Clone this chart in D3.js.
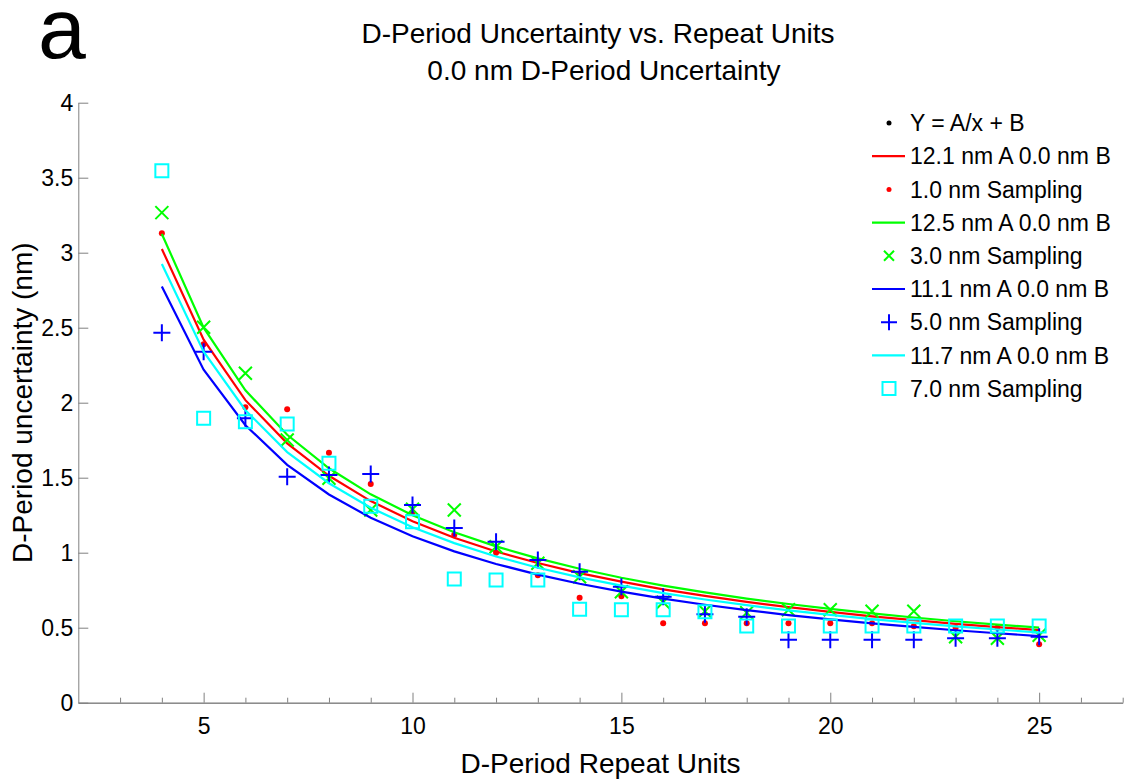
<!DOCTYPE html>
<html>
<head>
<meta charset="utf-8">
<title>D-Period Uncertainty vs. Repeat Units</title>
<script src="https://cdn.jsdelivr.net/npm/d3@7"></script>
<style>
  body { margin: 0; background: #fff; }
  svg { font-family: "Liberation Sans", Arial, Helvetica, sans-serif; }
  .axis path, .axis line { stroke: #808080; stroke-width: 1; }
  .axis text { fill: #000; font-size: 23px; }
</style>
</head>
<body>
<div id="chart"></div>
<script>
// repeat units on the x axis
const repeatUnits = [4, 5, 6, 7, 8, 9, 10, 11, 12, 13, 14, 15, 16, 17, 18, 19, 20, 21, 22, 23, 24, 25];

// fitted curves Y = A/x + B
const fit1nm = [3.025, 2.42, 2.017, 1.729, 1.513, 1.344, 1.21, 1.1, 1.008, 0.931, 0.864, 0.807, 0.756, 0.712, 0.672, 0.637, 0.605, 0.576, 0.55, 0.526, 0.504, 0.484];
const fit3nm = [3.125, 2.5, 2.083, 1.786, 1.563, 1.389, 1.25, 1.136, 1.042, 0.962, 0.893, 0.833, 0.781, 0.735, 0.694, 0.658, 0.625, 0.595, 0.568, 0.543, 0.521, 0.5];
const fit5nm = [2.775, 2.22, 1.85, 1.586, 1.388, 1.233, 1.11, 1.009, 0.925, 0.854, 0.793, 0.74, 0.694, 0.653, 0.617, 0.584, 0.555, 0.529, 0.505, 0.483, 0.463, 0.444];
const fit7nm = [2.925, 2.34, 1.95, 1.671, 1.463, 1.3, 1.17, 1.064, 0.975, 0.9, 0.836, 0.78, 0.731, 0.688, 0.65, 0.616, 0.585, 0.557, 0.532, 0.509, 0.488, 0.468];

// sampled uncertainties
const sample1nm = [3.13, 2.39, 1.97, 1.956, 1.667, 1.458, 1.27, 1.12, 1.0, 0.85, 0.70, 0.71, 0.53, 0.53, 0.53, 0.53, 0.53, 0.53, 0.51, 0.5, 0.5, 0.39];
const sample3nm = [3.267, 2.503, 2.196, 1.751, 1.496, 1.285, 1.29, 1.285, 1.04, 0.93, 0.84, 0.74, 0.67, 0.61, 0.6, 0.62, 0.62, 0.61, 0.61, 0.44, 0.43, 0.45];
const sample5nm = [2.467, 2.34, 1.896, 1.507, 1.518, 1.525, 1.318, 1.165, 1.073, 0.951, 0.873, 0.773, 0.707, 0.59, 0.573, 0.42, 0.42, 0.42, 0.42, 0.43, 0.43, 0.44];
const sample7nm = [3.547, 1.896, 1.873, 1.858, 1.596, 1.31, 1.207, 0.825, 0.818, 0.818, 0.623, 0.62, 0.62, 0.607, 0.511, 0.511, 0.511, 0.511, 0.511, 0.511, 0.511, 0.511];

// axis ticks
const xMajorTicks = [5, 10, 15, 20, 25];
const xMinorTicks = [3, 4, 6, 7, 8, 9, 11, 12, 13, 14, 16, 17, 18, 19, 21, 22, 23, 24, 26, 27];
const yTicks = [0, 0.5, 1, 1.5, 2, 2.5, 3, 3.5, 4];

const legendLabels = ["Y = A/x + B", "12.1 nm A 0.0 nm B", "1.0 nm Sampling", "12.5 nm A 0.0 nm B",
  "3.0 nm Sampling", "11.1 nm A 0.0 nm B", "5.0 nm Sampling", "11.7 nm A 0.0 nm B", "7.0 nm Sampling"];

const W = 1131, H = 780;
const margin = { top: 102.7, left: 78.3 };
const width = 1044.4, height = 600;

const svg = d3.select("#chart").append("svg")
  .attr("width", W)
  .attr("height", H);

const x = d3.scaleLinear().domain([2, 27]).range([0, width]);
const y = d3.scaleLinear().domain([0, 4]).range([height, 0]);

const g = svg.append("g")
  .attr("transform", `translate(${margin.left},${margin.top})`);

// axes (ticks point inward, no box)
g.append("g")
  .attr("class", "axis")
  .attr("transform", `translate(0,${height})`)
  .call(d3.axisBottom(x).tickValues(xMinorTicks).tickSize(-5).tickSizeOuter(0).tickFormat(""));
g.append("g")
  .attr("class", "axis")
  .attr("transform", `translate(0,${height})`)
  .call(d3.axisBottom(x).tickValues(xMajorTicks).tickSize(-10).tickSizeOuter(0).tickPadding(15).tickFormat(d3.format("d")));
g.append("g")
  .attr("class", "axis")
  .call(d3.axisLeft(y).tickValues(yTicks).tickSize(-10).tickSizeOuter(0).tickPadding(5).tickFormat(d => d))
  .selectAll("text").attr("dy", "0.36em");

const line = d3.line()
  .x((d, i) => x(repeatUnits[i]))
  .y(d => y(d));

// marker shapes
const plusPath = s => `M${-s},0H${s}M0,${-s}V${s}`;
const crossPath = s => `M${-s},${-s}L${s},${s}M${-s},${s}L${s},${-s}`;

function drawLine(values, color) {
  g.append("path")
    .datum(values)
    .attr("fill", "none")
    .attr("stroke", color)
    .attr("stroke-width", 2.2)
    .attr("d", line);
}

function drawMarkers(values, color, kind) {
  const sel = g.append("g").selectAll("path")
    .data(values)
    .enter();
  if (kind === "dot") {
    sel.append("circle")
      .attr("cx", (d, i) => x(repeatUnits[i]))
      .attr("cy", d => y(d))
      .attr("r", 3)
      .attr("fill", color);
    return;
  }
  sel.append("path")
    .attr("transform", (d, i) => `translate(${x(repeatUnits[i])},${y(d)})`)
    .attr("d", kind === "plus" ? plusPath(8.5) : kind === "cross" ? crossPath(6.5) : "M-6.5,-6.5H6.5V6.5H-6.5Z")
    .attr("fill", "none")
    .attr("stroke", color)
    .attr("stroke-width", 2);
}

// same order as the legend
drawLine(fit1nm, "#ff0000");
drawMarkers(sample1nm, "#ff0000", "dot");
drawLine(fit3nm, "#00ff00");
drawMarkers(sample3nm, "#00ff00", "cross");
drawLine(fit5nm, "#0000ff");
drawMarkers(sample5nm, "#0000ff", "plus");
drawLine(fit7nm, "#00ffff");
drawMarkers(sample7nm, "#00ffff", "square");

// legend
const legendKinds = [
  { kind: "dot", color: "#000" }, { kind: "line", color: "#ff0000" }, { kind: "dot", color: "#ff0000" },
  { kind: "line", color: "#00ff00" }, { kind: "cross", color: "#00ff00" }, { kind: "line", color: "#0000ff" },
  { kind: "plus", color: "#0000ff" }, { kind: "line", color: "#00ffff" }, { kind: "square", color: "#00ffff" }
];
const legend = svg.append("g").attr("transform", "translate(889,123)");
legendLabels.forEach((label, i) => {
  const row = legend.append("g").attr("transform", `translate(0,${i * 33.2})`);
  const k = legendKinds[i];
  if (k.kind === "line") {
    row.append("line").attr("x1", -17).attr("x2", 16).attr("stroke", k.color).attr("stroke-width", 2.2);
  } else if (k.kind === "dot") {
    row.append("circle").attr("r", 2.5).attr("fill", k.color);
  } else {
    row.append("path")
      .attr("d", k.kind === "plus" ? plusPath(8) : k.kind === "cross" ? crossPath(5) : "M-6.5,-6.5H6.5V6.5H-6.5Z")
      .attr("fill", "none")
      .attr("stroke", k.color)
      .attr("stroke-width", 2);
  }
  row.append("text")
    .attr("x", 21)
    .attr("dy", "0.36em")
    .style("font-size", "23px")
    .text(label);
});

// titles and labels
svg.append("text")
  .attr("x", 38).attr("y", 58)
  .style("font-size", "86px")
  .text("a");
svg.append("text")
  .attr("x", 598).attr("y", 43)
  .attr("text-anchor", "middle")
  .style("font-size", "28px")
  .text("D-Period Uncertainty vs. Repeat Units");
svg.append("text")
  .attr("x", 604).attr("y", 80)
  .attr("text-anchor", "middle")
  .style("font-size", "28px")
  .text("0.0 nm D-Period Uncertainty");
svg.append("text")
  .attr("x", margin.left + width / 2).attr("y", 773)
  .attr("text-anchor", "middle")
  .style("font-size", "28px")
  .text("D-Period Repeat Units");
svg.append("text")
  .attr("transform", `translate(32,${margin.top + height / 2}) rotate(-90)`)
  .attr("text-anchor", "middle")
  .style("font-size", "28px")
  .text("D-Period uncertainty (nm)");
</script>
</body>
</html>
